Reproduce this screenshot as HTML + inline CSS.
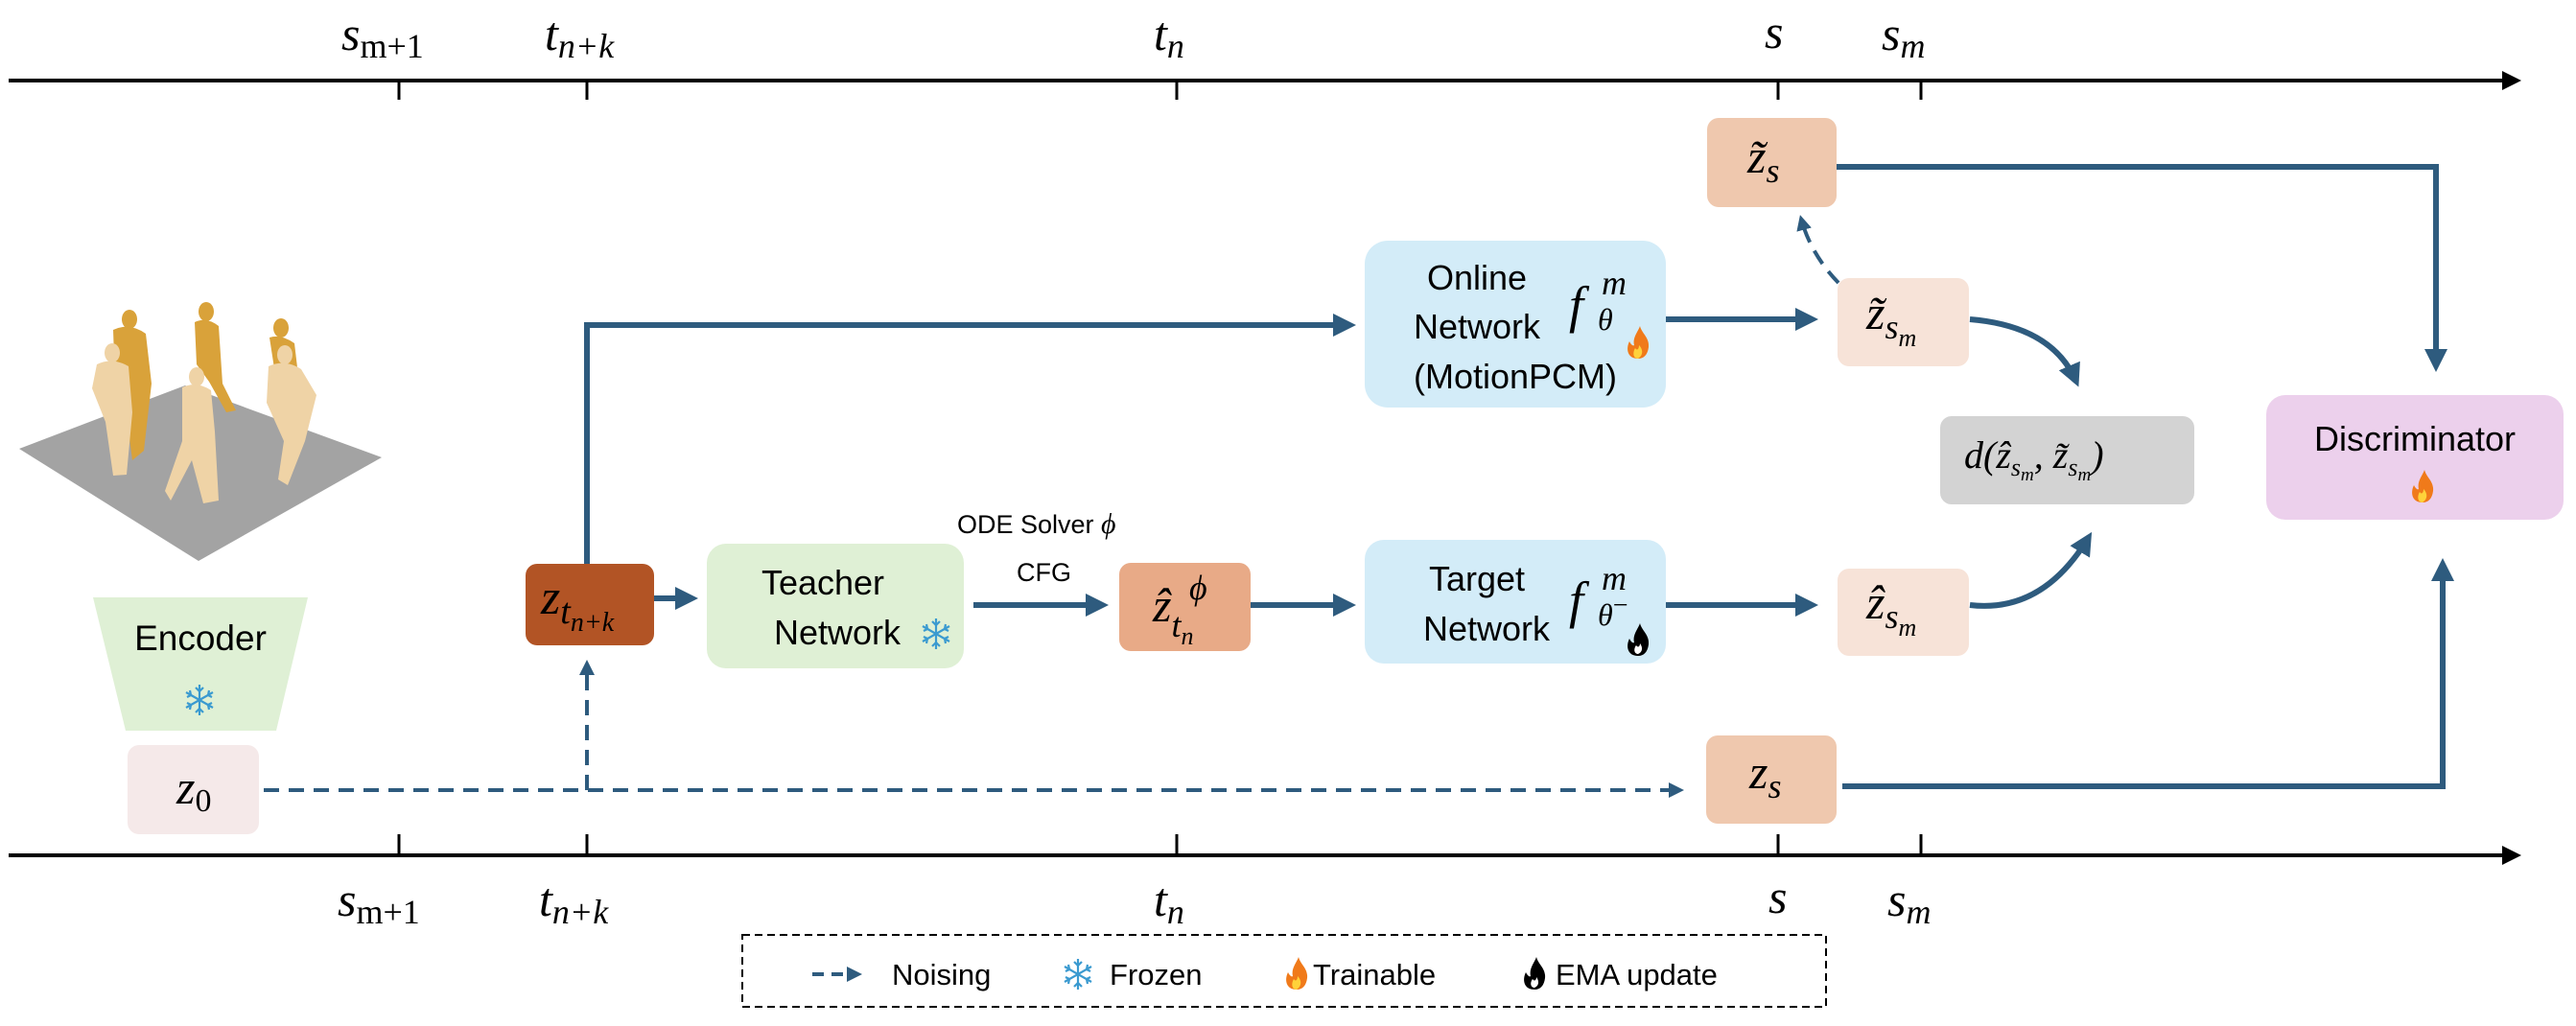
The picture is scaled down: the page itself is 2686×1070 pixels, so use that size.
<!DOCTYPE html>
<html><head><meta charset="utf-8"><style>
html,body{margin:0;padding:0;background:#fff;}
svg{display:block;}
.m{font-family:"Liberation Serif",serif;font-style:italic;fill:#000;}
.s{font-family:"Liberation Sans",sans-serif;fill:#000;}
</style></head><body>
<svg width="2686" height="1070" viewBox="0 0 2686 1070" xmlns="http://www.w3.org/2000/svg">
<defs>
<marker id="ah" markerWidth="4" markerHeight="4" refX="3" refY="2" orient="auto" markerUnits="strokeWidth"><path d="M0,0 L4,2 L0,4 Z" fill="#2e5b7e"/></marker>
<marker id="ak" markerWidth="5" markerHeight="5" refX="4" refY="2.5" orient="auto" markerUnits="strokeWidth"><path d="M0,0 L5,2.5 L0,5 Z" fill="#000"/></marker>
<g id="snow" stroke="#3a9ad0" stroke-width="2.2" fill="none">
<line x1="0" y1="-16" x2="0" y2="16"/><line x1="-14" y1="-8" x2="14" y2="8"/><line x1="-14" y1="8" x2="14" y2="-8"/>
<path d="M-4,-13 L0,-9 L4,-13 M-4,13 L0,9 L4,13 M-13,-3 L-9,-5 L-10,-10 M13,3 L9,5 L10,10 M13,-3 L9,-5 L10,-10 M-13,3 L-9,5 L-10,10"/>
</g>
<g id="fire"><path d="M0,16 C-11,16 -13,6 -9,-2 C-7,2 -5,3 -4,2 C-6,-6 0,-12 2,-18 C4,-10 12,-6 11,4 C10,12 6,16 0,16Z" fill="#f07a1a"/><path d="M0,16 C-5,16 -6,10 -3,5 C-1,8 1,6 1,2 C5,6 6,12 0,16Z" fill="#ffd23a"/></g>
<g id="bfire"><path d="M0,16 C-11,16 -13,6 -9,-2 C-7,2 -5,3 -4,2 C-6,-6 0,-12 2,-18 C4,-10 12,-6 11,4 C10,12 6,16 0,16Z" fill="#000"/><path d="M0,14 C-4,14 -5,9 -2,5 C0,8 2,6 2,3 C5,7 5,12 0,14Z" fill="#fff"/></g>
</defs>

<!-- axes -->
<line x1="9" y1="84" x2="2625" y2="84" stroke="#000" stroke-width="4" marker-end="url(#ak)"/>
<line x1="9" y1="892" x2="2625" y2="892" stroke="#000" stroke-width="4" marker-end="url(#ak)"/>
<g stroke="#000" stroke-width="3">
<line x1="416" y1="84" x2="416" y2="104"/><line x1="612" y1="84" x2="612" y2="104"/><line x1="1227" y1="84" x2="1227" y2="104"/><line x1="1854" y1="84" x2="1854" y2="104"/><line x1="2003" y1="84" x2="2003" y2="104"/>
<line x1="416" y1="870" x2="416" y2="892"/><line x1="612" y1="870" x2="612" y2="892"/><line x1="1227" y1="870" x2="1227" y2="892"/><line x1="1854" y1="870" x2="1854" y2="892"/><line x1="2003" y1="870" x2="2003" y2="892"/>
</g>
<g class="m" font-size="50">
<text x="356" y="52">s<tspan font-size="36" dy="8" font-style="normal">m+1</tspan></text>
<text x="568" y="52">t<tspan font-size="36" dy="8">n+k</tspan></text>
<text x="1203" y="52">t<tspan font-size="36" dy="8">n</tspan></text>
<text x="1840" y="50">s</text>
<text x="1962" y="52">s<tspan font-size="36" dy="8">m</tspan></text>
<text x="352" y="955">s<tspan font-size="36" dy="8" font-style="normal">m+1</tspan></text>
<text x="562" y="955">t<tspan font-size="36" dy="8">n+k</tspan></text>
<text x="1203" y="955">t<tspan font-size="36" dy="8">n</tspan></text>
<text x="1844" y="952">s</text>
<text x="1968" y="955">s<tspan font-size="36" dy="8">m</tspan></text>
</g>

<!-- human scene -->
<polygon points="20,468 193,402 398,477 207,585" fill="#a3a3a3"/>
<g fill="#d9a23a">
<ellipse cx="135" cy="333" rx="8" ry="10"/><path d="M118,344 Q135,336 152,348 L158,400 L150,470 L138,480 L130,420 L120,400Z"/>
<ellipse cx="215" cy="325" rx="8" ry="10"/><path d="M203,336 Q215,330 228,340 L232,400 L246,428 L236,430 L218,398 L205,380Z"/>
<ellipse cx="293" cy="342" rx="8" ry="10"/><path d="M281,352 Q293,348 307,358 L312,400 L314,455 L302,456 L290,410Z"/>
</g>
<g fill="#efd3a6">
<ellipse cx="117" cy="368" rx="8" ry="10"/><path d="M101,380 Q117,372 134,382 L138,430 L132,495 L118,496 L110,440 L96,405Z"/>
<ellipse cx="205" cy="393" rx="8" ry="10"/><path d="M190,404 Q205,397 220,407 L224,450 L228,522 L212,525 L200,480 L178,522 L172,512 L190,460Z"/>
<ellipse cx="297" cy="370" rx="8" ry="10"/><path d="M280,382 Q297,374 314,385 L330,412 L318,460 L300,506 L290,500 L296,460 L278,420Z"/>
</g>

<!-- encoder -->
<polygon points="97,623 321,623 288,762 131,762" fill="#dff0d5"/>
<text class="s" x="209" y="678" font-size="37" text-anchor="middle">Encoder</text>
<use href="#snow" x="208" y="730"/>

<!-- z0 -->
<rect x="133" y="777" width="137" height="93" rx="12" fill="#f5e9e9"/>
<text class="m" x="184" y="838" font-size="50">z<tspan font-size="34" dy="8" font-style="normal">0</tspan></text>

<!-- connectors -->
<g stroke="#2e5b7e" stroke-width="6" fill="none">
<polyline points="612,588 612,339 1408,339" marker-end="url(#ah)"/>
<line x1="682" y1="624" x2="722" y2="624" marker-end="url(#ah)"/>
<line x1="1015" y1="631" x2="1150" y2="631" marker-end="url(#ah)"/>
<line x1="1304" y1="631" x2="1408" y2="631" marker-end="url(#ah)"/>
<line x1="1737" y1="333" x2="1890" y2="333" marker-end="url(#ah)"/>
<line x1="1737" y1="631" x2="1890" y2="631" marker-end="url(#ah)"/>
<polyline points="1915,174 2540,174 2540,382" marker-end="url(#ah)"/>
<polyline points="1921,820 2547,820 2547,588" marker-end="url(#ah)"/>
<path d="M2054,333 Q2140,340 2165,398" marker-end="url(#ah)"/>
<path d="M2054,631 Q2130,640 2178,560" marker-end="url(#ah)"/>
</g>
<g stroke="#2e5b7e" stroke-width="4" fill="none" stroke-dasharray="16,10">
<line x1="275" y1="824" x2="1752" y2="824" marker-end="url(#ah)"/>
<line x1="612" y1="824" x2="612" y2="692" marker-end="url(#ah)"/>
<path d="M1917,295 Q1888,265 1878,228" marker-end="url(#ah)"/>
</g>

<!-- z_tn+k -->
<rect x="548" y="588" width="134" height="85" rx="12" fill="#b25425"/>
<text class="m" x="564" y="640" font-size="52">z<tspan font-size="38" dy="10">t</tspan><tspan font-size="28" dy="8">n+k</tspan></text>

<!-- teacher -->
<rect x="737" y="567" width="268" height="130" rx="20" fill="#dff0d5"/>
<text class="s" x="858" y="620" font-size="36" text-anchor="middle">Teacher</text>
<text class="s" x="873" y="672" font-size="36" text-anchor="middle">Network</text>
<use href="#snow" x="976" y="661"/>
<text class="s" x="998" y="556" font-size="27">ODE Solver <tspan class="m" font-size="30">ϕ</tspan></text>
<text class="s" x="1060" y="606" font-size="27">CFG</text>

<!-- z hat tn -->
<rect x="1167" y="587" width="137" height="92" rx="12" fill="#e8aa87"/>
<text class="m" x="1202" y="648" font-size="50">ẑ<tspan font-size="36" dy="16">t</tspan><tspan font-size="26" dy="8">n</tspan></text>
<text class="m" x="1240" y="625" font-size="36">ϕ</text>

<!-- online -->
<rect x="1423" y="251" width="314" height="174" rx="24" fill="#d3ecf8"/>
<text class="s" x="1540" y="302" font-size="36" text-anchor="middle">Online</text>
<text class="s" x="1540" y="353" font-size="36" text-anchor="middle">Network</text>
<text class="s" x="1580" y="405" font-size="36" text-anchor="middle">(MotionPCM)</text>
<text class="m" x="1636" y="336" font-size="54">f</text>
<text class="m" x="1670" y="307" font-size="36">m</text>
<text class="m" x="1666" y="344" font-size="32">θ</text>
<use href="#fire" x="1708" y="358"/>

<!-- target -->
<rect x="1423" y="563" width="314" height="129" rx="20" fill="#d3ecf8"/>
<text class="s" x="1540" y="616" font-size="36" text-anchor="middle">Target</text>
<text class="s" x="1550" y="668" font-size="36" text-anchor="middle">Network</text>
<text class="m" x="1636" y="644" font-size="54">f</text>
<text class="m" x="1670" y="615" font-size="36">m</text>
<text class="m" x="1666" y="652" font-size="32">θ<tspan font-style="normal" font-size="28" dy="-12">−</tspan></text>
<use href="#bfire" x="1708" y="668"/>

<!-- z tilde s -->
<rect x="1780" y="123" width="135" height="93" rx="12" fill="#efc8ae"/>
<text class="m" x="1822" y="180" font-size="50">z̃<tspan font-size="36" dy="10">s</tspan></text>
<!-- z tilde sm -->
<rect x="1916" y="290" width="137" height="92" rx="12" fill="#f7e3d8"/>
<text class="m" x="1946" y="343" font-size="50">z̃<tspan font-size="36" dy="10">s</tspan><tspan font-size="26" dy="8">m</tspan></text>
<!-- z hat sm -->
<rect x="1916" y="593" width="137" height="91" rx="12" fill="#f7e3d8"/>
<text class="m" x="1946" y="645" font-size="50">ẑ<tspan font-size="36" dy="10">s</tspan><tspan font-size="26" dy="8">m</tspan></text>
<!-- z s -->
<rect x="1779" y="767" width="136" height="92" rx="12" fill="#efc8ae"/>
<text class="m" x="1824" y="822" font-size="50">z<tspan font-size="36" dy="10">s</tspan></text>

<!-- d box -->
<rect x="2023" y="434" width="265" height="92" rx="12" fill="#d3d3d3"/>
<text class="m" x="2048" y="488" font-size="40">d(ẑ<tspan font-size="26" dy="8">s</tspan><tspan font-size="19" dy="5">m</tspan><tspan dy="-13">, z̃</tspan><tspan font-size="26" dy="8">s</tspan><tspan font-size="19" dy="5">m</tspan><tspan dy="-13">)</tspan></text>

<!-- discriminator -->
<rect x="2363" y="412" width="310" height="130" rx="20" fill="#ecd0ec"/>
<text class="s" x="2518" y="470" font-size="36" text-anchor="middle">Discriminator</text>
<use href="#fire" x="2526" y="508"/>

<!-- legend -->
<rect x="774" y="975" width="1130" height="75" fill="none" stroke="#000" stroke-width="2" stroke-dasharray="8,5"/>
<line x1="847" y1="1016" x2="895" y2="1016" stroke="#2e5b7e" stroke-width="4" stroke-dasharray="12,8" marker-end="url(#ah)"/>
<text class="s" x="930" y="1027" font-size="31">Noising</text>
<use href="#snow" x="1124" y="1016"/>
<text class="s" x="1157" y="1027" font-size="31">Frozen</text>
<use href="#fire" x="1352" y="1016"/>
<text class="s" x="1369" y="1027" font-size="31">Trainable</text>
<use href="#bfire" x="1600" y="1016"/>
<text class="s" x="1622" y="1027" font-size="31">EMA update</text>
</svg>
</body></html>
